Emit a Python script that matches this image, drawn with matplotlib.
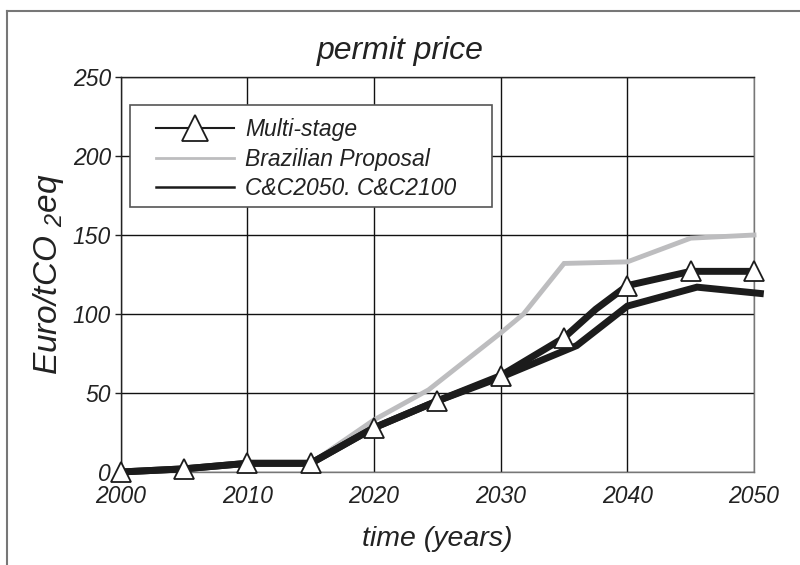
import matplotlib
matplotlib.use("Agg")
import matplotlib.pyplot as plt
from matplotlib.lines import Line2D
from matplotlib.patches import Rectangle

plt.rcParams['font.family'] = ['Liberation Sans', 'DejaVu Sans']
plt.rcParams['font.style'] = 'italic'
plt.rcParams['mathtext.fontset'] = 'custom'
plt.rcParams['mathtext.it'] = 'Liberation Sans:italic'
plt.rcParams['mathtext.rm'] = 'Liberation Sans:italic'

# Data
multi_years = [2000, 2005, 2010, 2015, 2020, 2025, 2030, 2035, 2037.5, 2040, 2045, 2050]
multi_vals = [0, 2, 5.5, 5.5, 28, 45, 61, 85, 103, 118, 127, 127]
multi_marker_years = [2000, 2005, 2010, 2015, 2020, 2025, 2030, 2035, 2040, 2045, 2050]

braz_years = [2000, 2005, 2010, 2015, 2020, 2024.3, 2030, 2031.8, 2035, 2040, 2045, 2050]
braz_vals = [0, 2, 5.5, 5.5, 33, 52, 88, 100, 132, 133, 148, 150]

cc_years = [2000, 2005, 2010, 2015, 2020, 2025, 2030, 2036, 2040, 2045.5, 2050.5]
cc_vals = [0, 2, 5.5, 5.5, 28, 45, 60, 80, 105, 117, 113]

x_ticks = [2000, 2010, 2020, 2030, 2040, 2050]
y_ticks = [0, 50, 100, 150, 200, 250]

labels = ["Multi-stage", "Brazilian Proposal", "C&C2050. C&C2100"]

BLACK = '#1c1c1c'
GRAY = '#bdbdbf'

fig = plt.figure(figsize=(8, 5.65), dpi=100)
ax = fig.add_axes([0.151, 0.1646, 0.7915, 0.6991])

# grid
ax.set_xticks(x_ticks)
ax.set_yticks(y_ticks)
ax.grid(True, color='#111111', linewidth=1.0)
ax.set_axisbelow(True)
ax.set_xlim(2000, 2050)
ax.set_ylim(0, 250)

ax.plot(braz_years, braz_vals, color=GRAY, linewidth=3.5, solid_joinstyle='miter', zorder=3, clip_on=False)
ax.plot(cc_years, cc_vals, color=BLACK, linewidth=5, solid_joinstyle='miter', zorder=4, clip_on=False)
mk_idx = [multi_years.index(y) for y in multi_marker_years]
ax.plot(multi_years, multi_vals, color=BLACK, linewidth=5, solid_joinstyle='miter',
        marker='^', markersize=14, markerfacecolor='white', markeredgecolor=BLACK,
        markeredgewidth=1.3, markevery=mk_idx, zorder=5, clip_on=False)

for s in ['left', 'top']:
    ax.spines[s].set_color('#222222')
for s in ['right', 'bottom']:
    ax.spines[s].set_color('#777777')
for s in ax.spines.values():
    s.set_linewidth(1.0)

ax.tick_params(axis='y', length=4, width=1, color='#222222', labelsize=16.5, pad=3)
ax.tick_params(axis='x', length=0, labelsize=16.5, pad=9)
for t in ax.get_xticklabels() + ax.get_yticklabels():
    t.set_fontstyle('italic')
    t.set_color('#222222')

ax.set_xlabel("time (years)", fontsize=20.5, fontstyle='italic', color='#222222', labelpad=13)
ax.set_ylabel("Euro/tCO $_{2}$eq", fontsize=24, fontstyle='italic', color='#222222', labelpad=5)
fig.text(0.5, 0.91, "permit price", ha='center', va='center', fontsize=23, fontstyle='italic', color='#222222')

# legend
handles = [
    Line2D([], [], color=BLACK, linewidth=1.5, marker='^', markersize=19,
           markerfacecolor='white', markeredgecolor=BLACK, markeredgewidth=1.3),
    Line2D([], [], color=GRAY, linewidth=2.0),
    Line2D([], [], color=BLACK, linewidth=1.8),
]
leg = ax.legend(handles, labels, loc='upper left', bbox_to_anchor=(0.055, 0.897),
                frameon=False, fontsize=16.5, handlelength=3.4, handletextpad=0.5,
                labelspacing=0.3, borderpad=0, borderaxespad=0)
for t in leg.get_texts():
    t.set_fontstyle('italic')
    t.set_color('#222222')
leg.set_zorder(7)
box = Rectangle((0.0142, 0.671), 0.5719, 0.258, transform=ax.transAxes,
                facecolor='white', edgecolor='#555555', linewidth=1.2, zorder=6)
ax.add_patch(box)

# outer figure frame (left and top only)
fig.add_artist(Line2D([0.009, 0.009], [0.0, 0.981], transform=fig.transFigure,
                      color='#777777', linewidth=1.5))
fig.add_artist(Line2D([0.009, 1.0], [0.981, 0.981], transform=fig.transFigure,
                      color='#777777', linewidth=1.5))

fig.savefig("out.png", dpi=100)
